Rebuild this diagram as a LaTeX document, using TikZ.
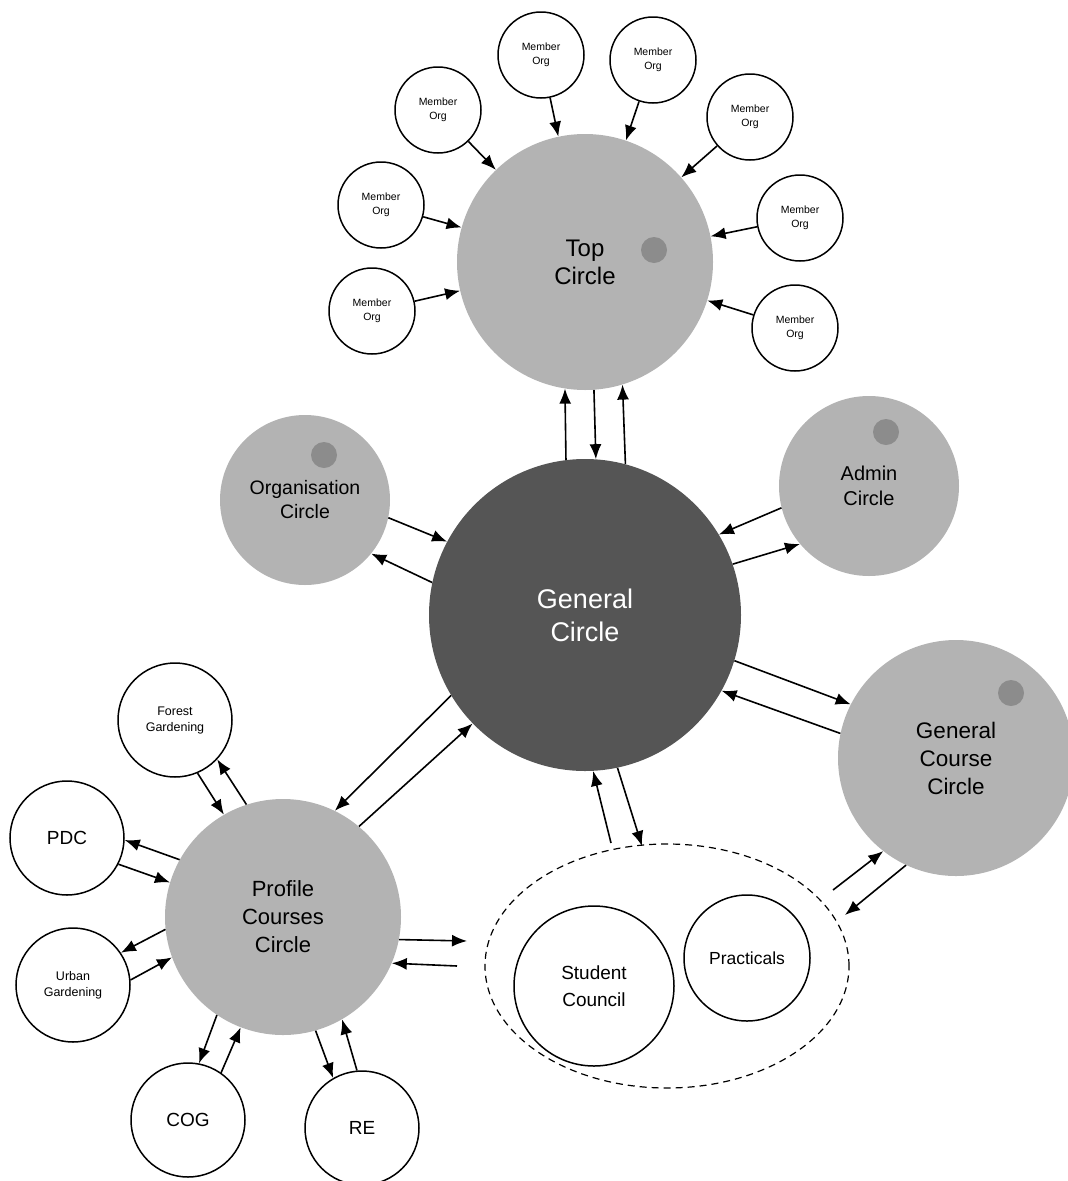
\documentclass[tikz,border=0pt]{standalone}
\usepackage{fontspec}
\setmainfont{Liberation Sans}
\usetikzlibrary{arrows.meta,shapes.geometric}
\definecolor{lgray}{HTML}{B3B3B3}
\definecolor{dgray}{HTML}{555555}
\definecolor{dotgray}{HTML}{8C8C8C}
\begin{document}
\begin{tikzpicture}[x=1pt,y=-1pt,
  bigc/.style={circle,fill=lgray,draw=none,inner sep=0pt,align=center,text=black},
  whitec/.style={circle,fill=white,draw=black,line width=1.5pt,inner sep=0pt,align=center,text=black},
  memberc/.style={whitec,minimum size=86pt,font=\fontsize{10.5}{13.5}\selectfont},
  smallc/.style={whitec,minimum size=114pt},
  dotc/.style={circle,fill=dotgray,draw=none,inner sep=0pt,minimum size=26pt},
  arr/.style={-{Latex[length=15pt,width=12pt]},line width=1.6pt},
  grpstyle/.style={ellipse,draw=black,line width=1.2pt,dash pattern=on 7pt off 5pt,inner sep=0pt}
]
\useasboundingbox (0,0) rectangle (1068,1181);

% big circles
\node[bigc,minimum size=256pt,font=\fontsize{24}{28}\selectfont] (top) at (585,262) {Top\\Circle};
\node[dotc] (topdot) at (654,250) {};
\node[circle,fill=dgray,draw=none,inner sep=0pt,minimum size=312pt,align=center,text=white,font=\fontsize{27}{33}\selectfont] (gen) at (585,615) {General\\Circle};
\node[bigc,minimum size=170pt,font=\fontsize{19.5}{24}\selectfont] (org) at (305,500) {Organisation\\Circle};
\node[dotc] (orgdot) at (324,455) {};
\node[bigc,minimum size=180pt,font=\fontsize{20}{25}\selectfont] (adm) at (869,486) {Admin\\Circle};
\node[dotc] (admdot) at (886,432) {};
\node[bigc,minimum size=236pt,font=\fontsize{22.5}{28}\selectfont] (gcc) at (956,758) {General\\Course\\Circle};
\node[dotc] (gccdot) at (1011,693) {};
\node[bigc,minimum size=236pt,font=\fontsize{22}{28}\selectfont] (pcc) at (283,917) {Profile\\Courses\\Circle};

% member orgs
\node[memberc] (m1) at (541,55) {Member\\Org};
\node[memberc] (m2) at (653,60) {Member\\Org};
\node[memberc] (m3) at (438,110) {Member\\Org};
\node[memberc] (m4) at (750,117) {Member\\Org};
\node[memberc] (m5) at (381,205) {Member\\Org};
\node[memberc] (m6) at (800,218) {Member\\Org};
\node[memberc] (m7) at (372,311) {Member\\Org};
\node[memberc] (m8) at (795,328) {Member\\Org};
\foreach \m in {m1,m2,m3,m4,m5,m6,m7,m8} \draw[arr] (\m) -- (top);

% profile satellites
\node[smallc,font=\fontsize{12.5}{16}\selectfont] (fg) at (175,720) {Forest\\Gardening};
\node[smallc,font=\fontsize{19}{23}\selectfont] (pdc) at (67,838) {PDC};
\node[smallc,font=\fontsize{12.5}{16}\selectfont] (ug) at (73,985) {Urban\\Gardening};
\node[smallc,font=\fontsize{19}{23}\selectfont] (cog) at (188,1120) {COG};
\node[smallc,font=\fontsize{19}{23}\selectfont] (re) at (362,1128) {RE};

% group ellipse
\node[grpstyle,minimum width=364pt,minimum height=244pt] (grp) at (667,966) {};
\node[whitec,minimum size=160pt,font=\fontsize{19}{27}\selectfont] (sc) at (594,986) {Student\\Council};
\node[whitec,minimum size=126pt,font=\fontsize{17.5}{21}\selectfont] (prac) at (747,958) {Practicals};

% free ends near the group
\coordinate (geA) at (611,843);
\coordinate (geB) at (642,846);
\coordinate (peA) at (467,941);
\coordinate (peB) at (457,966);
\coordinate (gcA) at (833,890);
\coordinate (gcB) at (845,915);

% top <-> general
\draw[arr] (gen.97) -- (top.261.5);
\draw[arr] (top.274.5) -- (gen.86.3);
\draw[arr] (gen.75.5) -- (top.287.7);

% org <-> general
\draw[arr] (org.-12.7) -- (gen.152.7);
\draw[arr] (gen.168.8) -- (org.-39);

% admin <-> general
\draw[arr] (adm.194) -- (gen.31.8);
\draw[arr] (gen.19.1) -- (adm.220.4);

% general course <-> general
\draw[arr] (gen.-17.4) -- (gcc.153);
\draw[arr] (gcc.168.8) -- (gen.-29.3);

% general course <-> group
\draw[arr] (gcA) -- (gcc.232.2);
\draw[arr] (gcc.245.6) -- (gcB);

% general <-> group
\draw[arr] (geA) -- (gen.-87.5);
\draw[arr] (gen.-78.1) -- (geB);

% profile <-> group
\draw[arr] (pcc.-11.4) -- (peA);
\draw[arr] (peB) -- (pcc.-23.1);

% profile <-> general
\draw[arr] (gen.211.2) -- (pcc.64.8);
\draw[arr] (pcc.50.5) -- (gen.224);

% profile satellites
\draw[arr] (fg.-67.5) -- (pcc.120.9);
\draw[arr] (pcc.108.3) -- (fg.-43);
\draw[arr] (pcc.151.4) -- (pdc.-2);
\draw[arr] (pdc.-27.8) -- (pcc.163.2);
\draw[arr] (pcc.186) -- (ug.34.8);
\draw[arr] (ug.5) -- (pcc.200.1);
\draw[arr] (pcc.236.4) -- (cog.79.3);
\draw[arr] (cog.55.5) -- (pcc.249.7);
\draw[arr] (pcc.-74.1) -- (re.120);
\draw[arr] (re.95.8) -- (pcc.-60.5);
\end{tikzpicture}
\end{document}
